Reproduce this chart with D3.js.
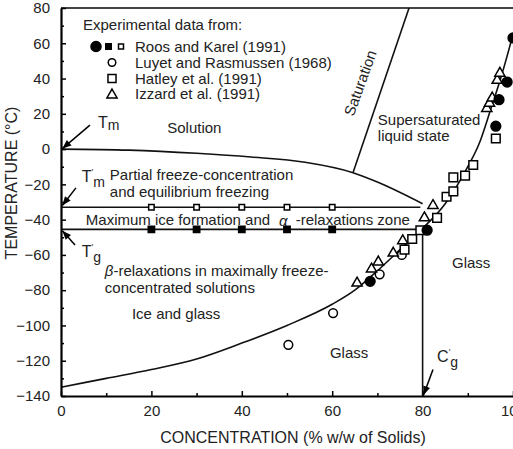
<!DOCTYPE html>
<meta charset="utf-8">
<html>
<head>
	<script src="https://cdnjs.cloudflare.com/ajax/libs/d3/7.8.5/d3.min.js"></script>
	<style>
		body { margin: 0; background: #fff; }
		text { font-family: "Liberation Sans", Arial, sans-serif; fill: #222; }
		.axis text { font-size: 15px; fill: #222; }
		.axis path, .axis line { stroke: #000; }
		.lbl { font-size: 15px; }
	</style>
</head>
<body>
<svg id="chart"></svg>
<script>
	// ticks
	var xTicks = [0, 20, 40, 60, 80, 100];
	var xMinor = [10, 30, 50, 70, 90];
	var yTicks = [80, 60, 40, 20, 0, -20, -40, -60, -80, -100, -120, -140];
	var yMinor = [70, 50, 30, 10, -10, -30, -50, -70, -90, -110, -130];

	// curves (concentration %, temperature C)
	var tmCurve = [[0, 0], [15, -0.6], [30, -2.4], [42, -4.5], [54, -7.5], [64.6, -13.4], [70, -18.7], [80, -31]];
	var tgCurve = [[0, -135], [10, -130], [20, -125], [30, -119], [40, -110], [50, -100], [60, -88], [65, -80],
		[70, -69], [75, -57], [80, -45], [85, -31], [90, -10], [92.5, 3], [95, 22], [97.5, 42], [100, 65]];
	var saturationLine = [[77, 80], [64.6, -13.4]];
	var tmPrimeLine = [[0, -33], [79.5, -33]];
	var tgPrimeLine = [[0, -45.5], [80, -45.5]];
	var cgLine = [[80, -45.5], [80, -140]];

	// experimental data
	var roosOpenSquares = [[20, -33], [30, -33], [40, -33], [50, -33], [60, -33]];
	var roosFilledSquares = [[20, -45.5], [30, -45.5], [40, -45.5], [50, -45.5], [60, -45.5]];
	var roosCircles = [[68.4, -75], [81, -46], [96.2, 13], [96.9, 28], [98.7, 38], [100, 63]];
	var luyetCircles = [[50.3, -111], [60.2, -93], [70.5, -71], [75.4, -60]];
	var hatleySquares = [[76, -57], [77.7, -51], [79.5, -46], [83.2, -39], [85.3, -27], [86.8, -24],
		[86.8, -16], [89.4, -15], [91.2, -9], [96.2, 6]];
	var izzardTriangles = [[65.5, -76], [68.7, -68], [70.2, -64], [73.5, -59], [75.6, -52], [80.4, -39],
		[82.3, -32], [94.2, 23], [94.8, 26], [95.4, 29], [96.5, 39], [97.1, 43]];

	var legendLabels = ["Roos and Karel (1991)", "Luyet and Rasmussen (1968)", "Hatley et al. (1991)", "Izzard et al. (1991)"];

	var svgWidth = 513, svgHeight = 449;
	var margin = {top: 8, right: 0, bottom: 53, left: 61};

	var svg = d3.select("#chart").attr("width", svgWidth).attr("height", svgHeight);

	var x = d3.scaleLinear().domain([0, 100]).range([margin.left, svgWidth - margin.right]);
	var y = d3.scaleLinear().domain([-140, 80]).range([svgHeight - margin.bottom, margin.top]);

	var defs = svg.append("defs");
	defs.append("marker")
		.attr("id", "arrow")
		.attr("viewBox", "0 0 10 10")
		.attr("refX", 10).attr("refY", 5)
		.attr("markerWidth", 11).attr("markerHeight", 9)
		.attr("markerUnits", "userSpaceOnUse")
		.attr("orient", "auto")
		.append("path").attr("d", "M0,1 L10,5 L0,9 z").attr("fill", "#000");

	// top frame
	svg.append("line")
		.attr("x1", x(0)).attr("x2", x(100))
		.attr("y1", y(80)).attr("y2", y(80))
		.attr("stroke", "#444").attr("stroke-width", 2);

	var line = d3.line()
		.x(function(d) { return x(d[0]); })
		.y(function(d) { return y(d[1]); });

	var smooth = d3.line()
		.curve(d3.curveMonotoneX)
		.x(function(d) { return x(d[0]); })
		.y(function(d) { return y(d[1]); });

	svg.append("path").datum(tmCurve).attr("d", smooth)
		.attr("fill", "none").attr("stroke", "#111").attr("stroke-width", 1.6);
	svg.append("path").datum(tgCurve).attr("d", smooth)
		.attr("fill", "none").attr("stroke", "#111").attr("stroke-width", 1.6);

	[saturationLine, tmPrimeLine, tgPrimeLine, cgLine].forEach(function(seg) {
		svg.append("path").datum(seg).attr("d", line)
			.attr("fill", "none").attr("stroke", "#111").attr("stroke-width", 1.6);
	});

	// axes
	svg.append("g").attr("class", "axis")
		.attr("transform", "translate(0," + y(-140) + ")")
		.call(d3.axisBottom(x).tickValues(xTicks).tickSize(-5).tickSizeOuter(0).tickPadding(9));
	svg.append("g").attr("class", "axis")
		.attr("transform", "translate(0," + y(-140) + ")")
		.call(d3.axisBottom(x).tickValues(xMinor).tickSize(-3).tickSizeOuter(0).tickFormat(""))
		.select(".domain").remove();

	svg.append("g").attr("class", "axis")
		.attr("transform", "translate(" + x(0) + ",0)")
		.call(d3.axisLeft(y).tickValues(yTicks).tickSize(-5).tickSizeOuter(0).tickPadding(11));
	svg.append("g").attr("class", "axis")
		.attr("transform", "translate(" + x(0) + ",0)")
		.call(d3.axisLeft(y).tickValues(yMinor).tickSize(-3).tickSizeOuter(0).tickFormat(""))
		.select(".domain").remove();

	svg.selectAll(".axis .domain").attr("stroke-width", 2.2);
	svg.selectAll(".axis .tick line").attr("stroke-width", 1.5);

	svg.append("text")
		.attr("x", (x(0) + x(100)) / 2 + 6).attr("y", 443)
		.attr("text-anchor", "middle").style("font-size", "16px")
		.text("CONCENTRATION (% w/w of Solids)");
	svg.append("text")
		.attr("transform", "translate(17," + 183 + ") rotate(-90)")
		.attr("text-anchor", "middle").style("font-size", "16px")
		.text("TEMPERATURE (°C)");

	// symbols
	function drawSymbols(data, type, size, fill) {
		svg.append("g").selectAll("path").data(data).enter().append("path")
			.attr("transform", function(d) { return "translate(" + x(d[0]) + "," + y(d[1]) + ")"; })
			.attr("d", d3.symbol().type(type).size(size))
			.attr("fill", fill).attr("stroke", "#000").attr("stroke-width", 1.5);
	}
	drawSymbols(roosOpenSquares, d3.symbolSquare, 30, "#fff");
	drawSymbols(roosFilledSquares, d3.symbolSquare, 40, "#000");
	drawSymbols(luyetCircles, d3.symbolCircle, 60, "#fff");
	drawSymbols(izzardTriangles, d3.symbolTriangle, 45, "#fff");
	drawSymbols(hatleySquares, d3.symbolSquare, 75, "#fff");
	drawSymbols(roosCircles, d3.symbolCircle, 75, "#000");

	// legend
	var legend = svg.append("g");
	legend.append("text").attr("class", "lbl").attr("x", 83).attr("y", 30).text("Experimental data from:");
	legend.selectAll(".legtext").data(legendLabels).enter().append("text")
		.attr("class", "lbl legtext")
		.attr("x", 135)
		.attr("y", function(d, i) { return 52 + i * 15.8; })
		.text(function(d) { return d; });
	function legSym(cx, cy, type, size, fill) {
		legend.append("path")
			.attr("transform", "translate(" + cx + "," + cy + ")")
			.attr("d", d3.symbol().type(type).size(size))
			.attr("fill", fill).attr("stroke", "#000").attr("stroke-width", 1.5);
	}
	legSym(96, 46.5, d3.symbolCircle, 80, "#000");
	legSym(108.5, 46.5, d3.symbolSquare, 30, "#000");
	legSym(121, 46.5, d3.symbolSquare, 25, "#fff");
	legSym(112, 62.5, d3.symbolCircle, 45, "#fff");
	legSym(112, 78.5, d3.symbolSquare, 65, "#fff");
	legSym(112, 95, d3.symbolTriangle, 45, "#fff");

	// region labels (positions in data units)
	var regionText = [
		{c: 23.5, t: 9.1, s: "Solution"},
		{c: 70.1, t: 13.6, s: "Supersaturated"},
		{c: 70.1, t: 4.4, s: "liquid state"},
		{c: 10.8, t: -17.6, s: "Partial freeze-concentration"},
		{c: 10.8, t: -27.2, s: "and equilibrium freezing"},
		{c: 9.7, t: -81.6, s: "concentrated solutions"},
		{c: 15.7, t: -96.3, s: "Ice and glass"},
		{c: 59.5, t: -118.5, s: "Glass"},
		{c: 86.5, t: -67.4, s: "Glass"}
	];
	svg.selectAll(".region").data(regionText).enter().append("text")
		.attr("class", "lbl region")
		.attr("x", function(d) { return x(d.c); })
		.attr("y", function(d) { return y(d.t); })
		.text(function(d) { return d.s; });

	var maxIce = svg.append("text").attr("class", "lbl").attr("x", x(5.5)).attr("y", y(-43));
	maxIce.append("tspan").text("Maximum ice formation and");
	maxIce.append("tspan").attr("dx", 9).attr("dy", 1).style("font-style", "italic").text("α");
	maxIce.append("tspan").attr("dx", 8).attr("dy", -1).text("-relaxations zone");

	var beta = svg.append("text").attr("class", "lbl").attr("x", x(9.7)).attr("y", y(-72));
	beta.append("tspan").style("font-style", "italic").text("β");
	beta.append("tspan").text("-relaxations in maximally freeze-");

	svg.append("text").attr("class", "lbl")
		.attr("transform", "translate(" + x(66.2) + "," + y(37.5) + ") rotate(-70)")
		.attr("text-anchor", "middle").attr("dy", "0.35em")
		.text("Saturation");

	// T labels with subscripts
	function subLabel(c, t, main, sub, prime) {
		var tx = svg.append("text").attr("class", "lbl").attr("x", x(c)).attr("y", y(t));
		tx.append("tspan").style("font-size", "16px").text(main);
		if (prime) tx.append("tspan").style("font-size", "9px").attr("dy", -7).text("′");
		tx.append("tspan").style("font-size", "14px").attr("dy", prime ? 12 : 2).text(sub);
	}
	subLabel(8.2, 12, "T", "m", false);
	subLabel(4.6, -18.7, "T", "m", true);
	subLabel(4.6, -61.2, "T", "g", true);
	subLabel(83.2, -120.7, "C", "g", true);

	// arrows
	var arrows = [
		[[6.4, 13.6], [0.3, 0.3]],
		[[3.3, -22], [0.3, -32]],
		[[3.1, -54.4], [0.3, -46.3]],
		[[82.3, -125], [80.2, -139.5]]
	];
	svg.selectAll(".arrow").data(arrows).enter().append("path")
		.attr("class", "arrow")
		.attr("d", line)
		.attr("stroke", "#000").attr("stroke-width", 1.5)
		.attr("fill", "none")
		.attr("marker-end", "url(#arrow)");
</script>
</body>
</html>
